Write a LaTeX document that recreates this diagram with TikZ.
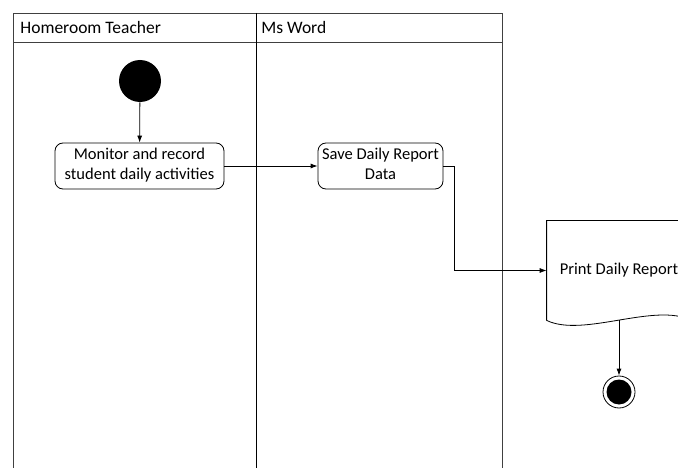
\documentclass[tikz,border=0pt]{standalone}
\usepackage{fontspec}
\setmainfont{Carlito}
\usepackage{tikz}
\usetikzlibrary{shapes,arrows.meta}

\begin{document}
\begin{tikzpicture}[x=1pt,y=-1pt,>={Latex[length=7pt,width=5pt]},line width=0.8pt,font=\fontsize{16.5}{20}\selectfont]
        \tikzstyle{activity}=[draw,rectangle,rounded corners=8pt,text centered,inner sep=0pt,minimum height=46pt]
        \tikzstyle{lane}=[draw=black!75,line width=0.9pt]
        \tikzstyle{lanetitle}=[anchor=west,inner sep=0pt,font=\fontsize{17.5}{20}\selectfont]
        \useasboundingbox (0,0) rectangle (678,468);
        \clip (0,0) rectangle (678,468);

	    % swimlanes
	    \draw[lane] (13,468) -- (13,13) -- (502,13) -- (502,468);
	    \draw[lane] (13,42) -- (502,42);
	    \draw (256,13) -- (256,468);
	    \node[lanetitle] (teacher) at (20,27.5) {Homeroom Teacher};
	    \node[lanetitle] (msword) at (261,27.5) {Ms Word};

	    \node[circle,fill=black,minimum size=42pt,inner sep=0pt] (start) at (140,81) {};

	    \node[activity,minimum width=169pt] (monitor) at (139.5,166) {
		    \begin{tabular}{@{}c@{}}
			    Monitor and record \\
			    student daily activities
	        \end{tabular}};

	    \node[activity,minimum width=125pt] (save) at (380.5,166) {
		    \begin{tabular}{@{}c@{}}
			    Save Daily Report \\
			    Data
	        \end{tabular}};

	    % document shape
	    \node[rectangle,minimum width=144pt,minimum height=99pt,inner sep=0pt] (print) at (619,270.5) {Print Daily Report};
	    \draw (print.south west) -- (print.north west) -- (print.north east) -- (print.south east)
	        .. controls (655,302) and (583,338) .. (print.south west);

	    \node[circle,draw,minimum size=32pt,inner sep=0pt,
	        path picture={\fill (path picture bounding box.center) circle (12.5pt);}] (stop) at (619,392) {};

	    \draw[->] (start) -- (monitor);
	    \draw[->] (monitor) -- (save);
	    \draw[->] (save.east) -- ++(11,0) |- (print.west);
	    \draw[->] (print.south) -- (stop);

	\end{tikzpicture}
\end{document}
